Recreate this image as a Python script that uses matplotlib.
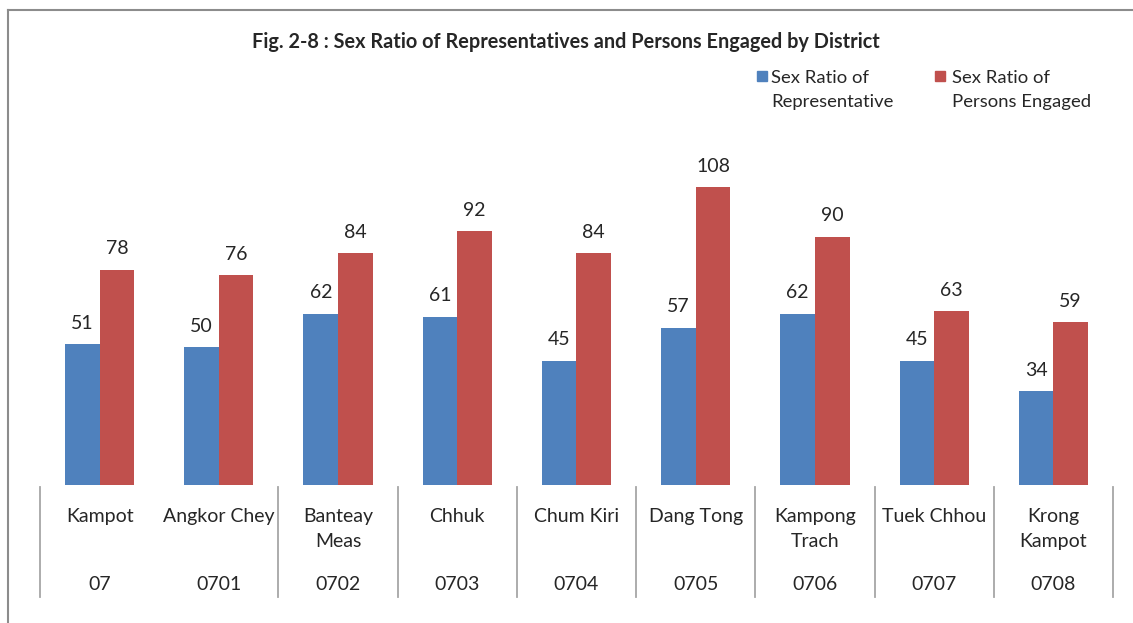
import matplotlib
matplotlib.use("Agg")
import matplotlib.pyplot as plt
from matplotlib.lines import Line2D
from matplotlib.patches import Rectangle
import numpy as np

districts = ["Kampot", "Angkor Chey", "Banteay\nMeas", "Chhuk", "Chum Kiri",
             "Dang Tong", "Kampong\nTrach", "Tuek Chhou", "Krong\nKampot"]
codes = ["07", "0701", "0702", "0703", "0704", "0705", "0706", "0707", "0708"]
rep = [51, 50, 62, 61, 45, 57, 62, 45, 34]
eng = [78, 76, 84, 92, 84, 108, 90, 63, 59]
series_names = ["Sex Ratio of\nRepresentative", "Sex Ratio of\nPersons Engaged"]
title = "Fig. 2-8 : Sex Ratio of Representatives and Persons Engaged by District"

BLUE = "#4F81BD"
RED = "#C0504D"
TXT = "#262626"
FONT = "Lato"

W, H = 1133, 623
fig = plt.figure(figsize=(W / 100, H / 100), dpi=100)
fig.patch.set_facecolor("white")

# axes in pixel coords
left, right, bottom, top = 40, 1113, 485, 154
ax = fig.add_axes([left / W, 1 - bottom / H, (right - left) / W, (bottom - top) / H])
ax.set_xlim(-0.5, len(districts) - 0.5)
ax.set_ylim(0, 120)
for s in ax.spines.values():
    s.set_visible(False)
ax.set_xticks([])
ax.set_yticks([])
ax.patch.set_alpha(0)

x = np.arange(len(districts))
bw = 0.29
b1 = ax.bar(x - bw / 2, rep, bw, color=BLUE, label=series_names[0])
b2 = ax.bar(x + bw / 2, eng, bw, color=RED, label=series_names[1])
for bars, vals in ((b1, rep), (b2, eng)):
    for r, v in zip(bars, vals):
        ax.annotate(str(v), (r.get_x() + r.get_width() / 2, v), xytext=(0, 9),
                    textcoords="offset points", ha="center", va="bottom",
                    fontsize=14, color=TXT, family=FONT)

ah = bottom - top
def ay(py):
    return -(py - bottom) / ah

tr = ax.get_xaxis_transform()
# separators (none between first and second category)
seps = [-0.5] + [i + 0.5 for i in range(1, len(districts))]
for sx in seps:
    ax.add_line(Line2D([sx, sx], [ay(487), ay(597)], transform=tr, color="#A6A6A6",
                       lw=1.3, clip_on=False))
for i, (d, c) in enumerate(zip(districts, codes)):
    ax.text(i, ay(508), d, transform=tr, ha="center", va="top", fontsize=14,
            color=TXT, family=FONT, linespacing=1.6)
    ax.text(i, ay(585), c, transform=tr, ha="center", va="center", fontsize=14,
            color=TXT, family=FONT)

# title
fig.text(566 / W, 1 - 42 / H, title, ha="center", va="center", fontsize=14.3,
         fontweight="bold", color=TXT, family=FONT)

# legend (square aligned with the first text line)
for (sx, tx), col, name in zip(((757, 771), (935, 952)), (BLUE, RED), series_names):
    fig.add_artist(Rectangle((sx / W, 1 - 81 / H), 10 / W, 10 / H,
                             transform=fig.transFigure, color=col))
    fig.text(tx / W, 1 - 70 / H, name, ha="left", va="top", fontsize=13.3,
             color=TXT, family=FONT, linespacing=1.6)

# chart border
fig.add_artist(Line2D([8 / W, 8 / W], [0, 1 - 10 / H], transform=fig.transFigure,
                      color="#8C8C8C", lw=1.5))
fig.add_artist(Line2D([8 / W, 1], [1 - 10 / H, 1 - 10 / H], transform=fig.transFigure,
                      color="#8C8C8C", lw=1.5))

fig.savefig("out.png", dpi=100, facecolor="white")
